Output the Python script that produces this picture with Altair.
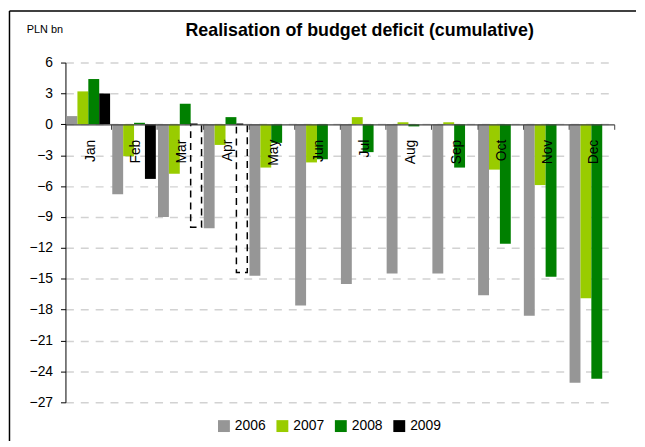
import altair as alt
import pandas as pd

months = ["Jan", "Feb", "Mar", "Apr", "May", "Jun", "Jul", "Aug", "Sep", "Oct", "Nov", "Dec"]
years = ["2006", "2007", "2008", "2009"]
colors = ["#969696", "#99cc00", "#008000", "#000000"]

v2006 = [0.8, -6.8, -9.0, -10.1, -14.7, -17.6, -15.5, -14.5, -14.5, -16.6, -18.6, -25.1]
v2007 = [3.2, -3.1, -4.8, -2.0, -4.2, -3.7, 0.7, 0.2, 0.2, -4.4, -5.9, -16.9]
v2008 = [4.4, 0.15, 2.0, 0.7, -1.8, -3.4, -2.7, -0.2, -4.2, -11.6, -14.8, -24.7]
v2009 = [3.0, -5.3, None, None, None, None, None, None, None, None, None, None]
plan2009 = [None, None, -10.0, -14.4, None, None, None, None, None, None, None, None]

y_ticks = list(range(-27, 7, 3))

rows = []
for yr, vals in zip(years, [v2006, v2007, v2008, v2009]):
    for m, v in zip(months, vals):
        if v is not None:
            rows.append({"month": m, "year": yr, "value": v})
df = pd.DataFrame(rows)

plan_df = pd.DataFrame(
    [{"month": m, "year": "2009", "value": v} for m, v in zip(months, plan2009) if v is not None]
)
one = pd.DataFrame({"a": [0]})

W, H = 554, 343
ymin, ymax = -27, 6
zero_from_bottom = H * (0 - ymin) / (ymax - ymin)

FONT = "Liberation Sans, Arial, sans-serif"

x_enc = alt.X(
    "month:N",
    sort=months,
    scale=alt.Scale(domain=months, paddingInner=0, paddingOuter=0),
    axis=alt.Axis(
        title=None,
        orient="bottom",
        offset=-zero_from_bottom,
        labelAngle=270,
        labelAlign="right",
        labelBaseline="middle",
        labelOffset=2,
        tickBand="extent",
        tickSize=5,
        labelPadding=10,
        domainColor="#444444",
        tickColor="#444444",
        domainWidth=1.2,
        zindex=1,
        grid=False,
        labelFontSize=14,
        labelColor="#000000",
        labelFont=FONT,
    ),
)
xoff_enc = alt.XOffset(
    "year:N", scale=alt.Scale(domain=years, paddingInner=0, paddingOuter=0.1)
)
y_enc = alt.Y(
    "value:Q",
    scale=alt.Scale(domain=[ymin, ymax], nice=False, zero=False),
    axis=alt.Axis(
        title=None,
        values=y_ticks,
        tickSize=5,
        labelPadding=8,
        tickColor="#000000",
        domainColor="#000000",
        grid=True,
        gridDash=[8, 7],
        gridColor="#d2d2d2",
        gridWidth=1.5,
        labelFontSize=14,
        labelColor="#000000",
        labelFont=FONT,
    ),
)

bars = alt.Chart(df).mark_bar().encode(
    x=x_enc,
    xOffset=xoff_enc,
    y=y_enc,
    color=alt.Color(
        "year:N",
        scale=alt.Scale(domain=years, range=colors),
        legend=alt.Legend(
            orient="none",
            legendX=153,
            legendY=360,
            direction="horizontal",
            title=None,
            symbolType="square",
            symbolSize=144,
            symbolStrokeWidth=0,
            labelFontSize=14,
            labelFont=FONT,
            labelColor="#000000",
            labelOffset=4,
            columnPadding=9,
            padding=0,
        ),
    ),
)

plan = alt.Chart(plan_df).mark_bar(
    fill="transparent", stroke="#000000", strokeWidth=1.5, strokeDash=[7, 5]
).encode(x=x_enc, xOffset=xoff_enc, y=y_enc)

unit_label = alt.Chart(one).mark_text(
    text="PLN bn",
    align="left",
    baseline="alphabetic",
    font="Liberation Sans Narrow, Liberation Sans, Arial, sans-serif",
    fontSize=11,
    color="#000000",
).encode(x=alt.value(26 - 65), y=alt.value(31 - 61))

frame_top = alt.Chart(one).mark_rule(color="#000000", strokeWidth=1.5).encode(
    x=alt.value(-56.5), x2=alt.value(576), y=alt.value(-52)
)
frame_left = alt.Chart(one).mark_rule(color="#000000", strokeWidth=1.5).encode(
    x=alt.value(-56.5), y=alt.value(-52), y2=alt.value(382)
)

chart = (
    alt.layer(bars, plan, unit_label, frame_top, frame_left)
    .properties(
        width=W,
        height=H,
        padding=0,
        title=alt.TitleParams(
            "Realisation of budget deficit (cumulative)",
            fontSize=18,
            fontWeight="bold",
            font=FONT,
            anchor="middle",
            dx=20,
            offset=-30,
            color="#000000",
        ),
    )
    .configure_view(stroke=None)
)

chart.save("out.html", embed_options={"renderer": "svg", "actions": False})
